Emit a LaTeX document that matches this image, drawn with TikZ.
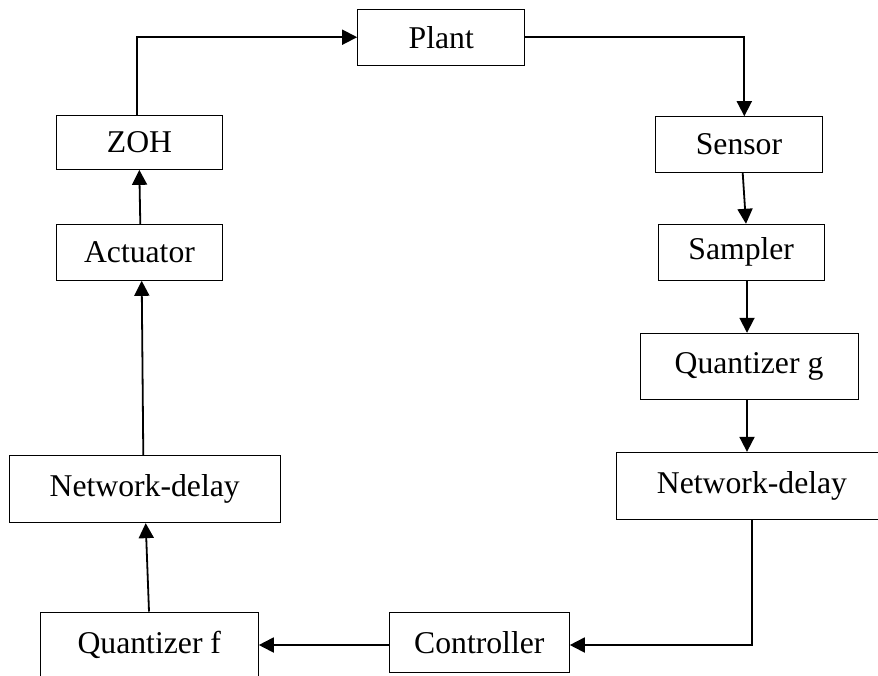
\documentclass[tikz,border=0pt]{standalone}
\usepackage{fontspec}
\setmainfont{Liberation Serif}
\usetikzlibrary{arrows.meta}

\tikzset{
  blockbox/.style={draw=black, line width=1pt, inner sep=0pt, rectangle,
    font=\fontsize{31.7}{38}\selectfont},
  flow/.style={line width=1.8pt, -{Triangle[length=15pt,width=15pt]}},
}

\begin{document}
\begin{tikzpicture}[x=1pt, y=-1pt]
\useasboundingbox (0,0) rectangle (878,675);
\clip (0,0) rectangle (878,675);

% forward path (right column)
\node[blockbox, minimum width=167.3pt, minimum height=55.7pt] (plant) at (441.3,37.2) {Plant};
\node[blockbox, minimum width=166.6pt, minimum height=55.6pt] (sens)  at (739,144.5)  {Sensor};
\node[blockbox, minimum width=165.7pt, minimum height=56pt]   (samp)  at (741.2,252.3) {Sampler};
\node[blockbox, minimum width=218pt,   minimum height=66pt]   (qg)    at (749,366.3)  {Quantizer g};
\node[blockbox, minimum width=272pt,   minimum height=66.7pt] (ndr)   at (752,485.7)  {Network-delay};

% bottom row
\node[blockbox, minimum width=180pt,   minimum height=60.4pt] (ctrl)  at (479.3,642.5) {Controller};
\node[blockbox, minimum width=218pt,   minimum height=66pt]   (qf)    at (149.3,645)  {Quantizer f};

% return path (left column)
\node[blockbox, minimum width=270.7pt, minimum height=66.7pt] (ndl)   at (144.7,489.3) {Network-delay};
\node[blockbox, minimum width=165.6pt, minimum height=56pt]   (act)   at (139.5,252.3) {Actuator};
\node[blockbox, minimum width=165.6pt, minimum height=54.3pt] (zoh)   at (139.5,142.2) {ZOH};

% connectors
\draw[flow] ([xshift=-2.8pt]zoh.north) |- (plant.west);
\draw[flow] (plant.east) -| ([xshift=5.3pt]sens.north);
\draw[flow] ([xshift=3.7pt]sens.south) -- ([xshift=4.8pt]samp.north);
\draw[flow] ([xshift=5.8pt]samp.south) -- ([xshift=-2pt]qg.north);
\draw[flow] ([xshift=-2pt]qg.south) -- ([xshift=-5pt]ndr.north);
\draw[flow] ([xshift=-0.3pt]ndr.south) |- ([yshift=-2.5pt]ctrl.east);
\draw[flow] ([yshift=-2.5pt]ctrl.west) -- (qf.east);
\draw[flow] ([xshift=-0.3pt]qf.north) -- ([xshift=1pt]ndl.south);
\draw[flow] ([xshift=-1.4pt]ndl.north) -- ([xshift=2.2pt]act.south);
\draw[flow] ([xshift=0.8pt]act.north) -- ([xshift=-0.2pt]zoh.south);
\end{tikzpicture}
\end{document}
